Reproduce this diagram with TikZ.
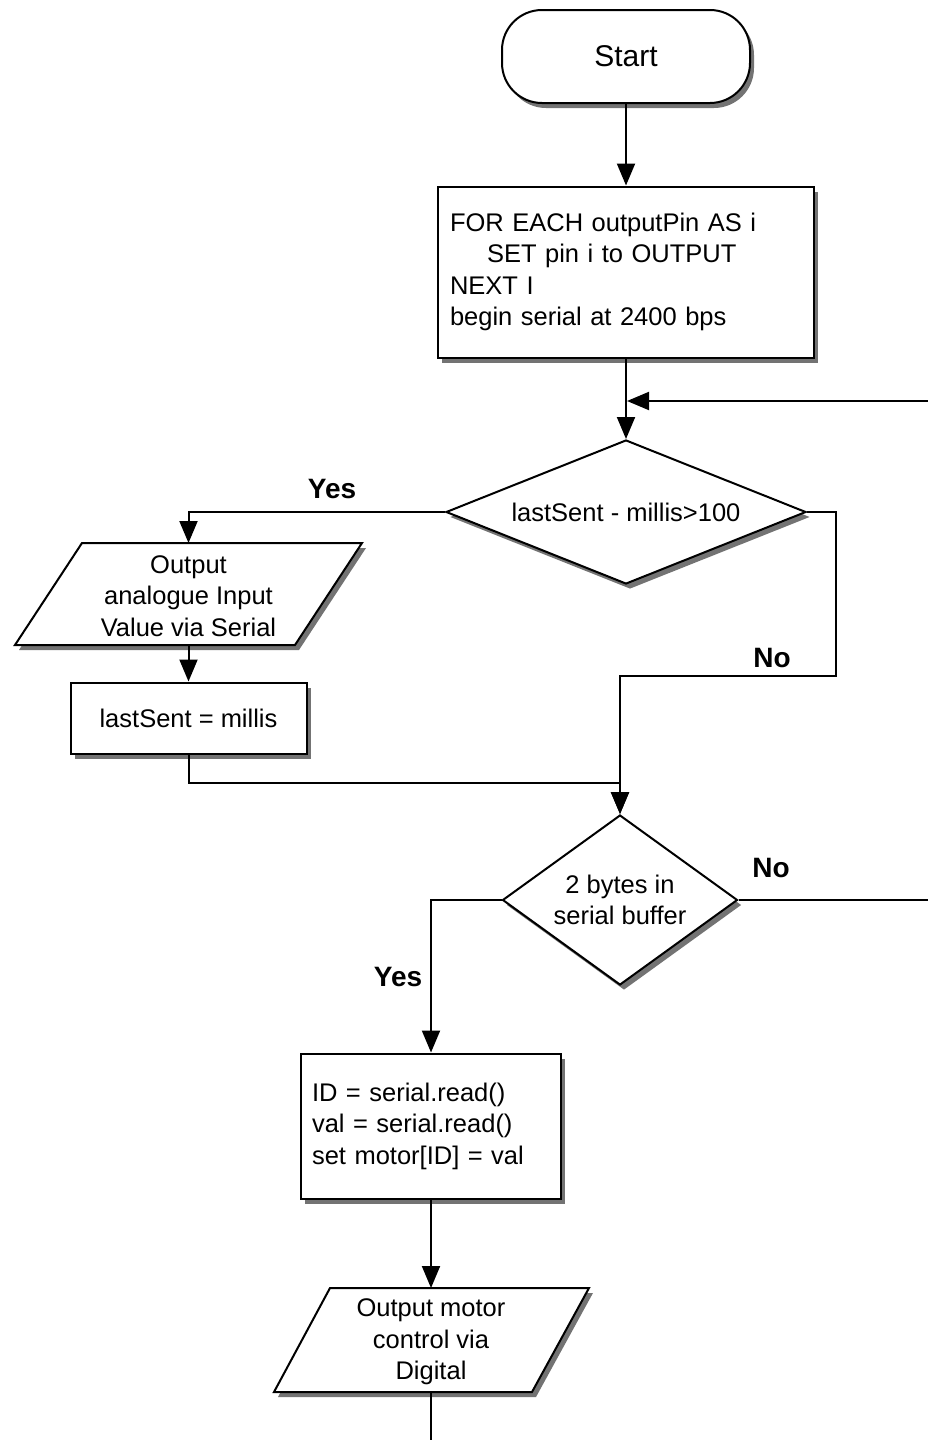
\documentclass[tikz,border=0pt]{standalone}
\usepackage{fontspec}
\setmainfont{Liberation Sans}
\usetikzlibrary{shapes.geometric,shadows,arrows.meta,calc}
\begin{document}
\begin{tikzpicture}[x=1pt,y=1pt,
  line width=2pt,
  shad/.style={drop shadow={shadow xshift=4pt,shadow yshift=-5pt,fill=black,opacity=0.55}},
  box/.style={draw,fill=white,shad,rectangle,inner sep=0pt},
  txt/.style={font=\fontsize{25.5}{31.5}\selectfont},
  lbl/.style={font=\fontsize{28}{30}\selectfont\bfseries},
  arr/.style={-{Triangle[length=22pt,width=18pt]}},
  conn/.style={line width=2pt}
]
\useasboundingbox (0,0) rectangle (928,-1440);

% nodes
\node[box, rounded corners=40pt, minimum width=248pt, minimum height=93pt, font=\fontsize{30}{36}\selectfont] (start) at (626,-56.5) {Start};
\node[box, txt, minimum width=376pt, minimum height=171pt, text width=352pt, align=left] (init) at (626,-272)
  {FOR EACH outputPin AS i\\\hspace*{37pt}SET pin i to OUTPUT\\NEXT I\\begin serial at 2400 bps};
\node[draw, fill=white, shad, diamond, aspect=2.5, minimum width=360pt, minimum height=144pt, inner sep=0pt, txt] (d1) at (626,-512) {lastSent - millis>100};

\coordinate (p1c) at (188.5,-594);
\path[draw, fill=white, shad] ($(p1c)+(-173.5,-51)$) -- ($(p1c)+(106.5,-51)$) -- ($(p1c)+(173.5,51)$) -- ($(p1c)+(-106.5,51)$) -- cycle;
\node[txt, align=center] (p1) at (188.5,-596) {Output\\analogue Input\\Value via Serial};
\coordinate (p1top) at (188.5,-543);
\coordinate (p1bot) at (188.5,-645);

\node[box, txt, minimum width=236pt, minimum height=71pt] (ls) at (188.5,-718) {lastSent = millis};

\node[draw, fill=white, shad, diamond, aspect=1.38, minimum width=235pt, minimum height=170pt, inner sep=0pt, txt, align=center] (d2) at (620,-900) {2 bytes in\\serial buffer};

\node[box, txt, minimum width=260pt, minimum height=145pt, text width=238pt, align=left] (b3) at (431,-1126)
  {ID = serial.read()\\val = serial.read()\\set motor[ID] = val};

\coordinate (p2c) at (431.5,-1340);
\path[draw, fill=white, shad] ($(p2c)+(-157.5,-52)$) -- ($(p2c)+(100.5,-52)$) -- ($(p2c)+(157.5,52)$) -- ($(p2c)+(-101.5,52)$) -- cycle;
\node[txt, align=center] (p2) at (431,-1342) {Output motor\\control via\\Digital};
\coordinate (p2top) at (431,-1288);
\coordinate (p2bot) at (431,-1392);

% labels
\node[lbl] (yes1) at (332,-489) {Yes};
\node[lbl] (no1) at (772,-658) {No};
\node[lbl] (no2) at (771,-868) {No};
\node[lbl] (yes2) at (398,-977) {Yes};

% helper coordinates
\coordinate (loopin) at (928,-401);
\coordinate (m1) at (627,-401);
\coordinate (n1) at (836,-676);
\coordinate (j1) at (188.5,-783);
\coordinate (redge) at (928,-900);
\coordinate (bedge) at (431,-1440);

% connectors
\draw[arr] (start.south) -- (init.north);
\draw[arr] (init.south) -- (d1.north);
\draw[arr] (loopin) -- (m1);
\draw[arr] (d1.west) -| (p1top);
\draw[arr] (p1bot) -- (ls.north);
\draw[arr] (ls.south) -- (j1) -| (d2.north);
\draw[arr] (d1.east) -| (n1) -| (d2.north);
\draw (d2.east) -- (redge);
\draw[arr] (d2.west) -| (b3.north);
\draw[arr] (b3.south) -- (p2top);
\draw (p2bot) -- (bedge);
\end{tikzpicture}
\end{document}
